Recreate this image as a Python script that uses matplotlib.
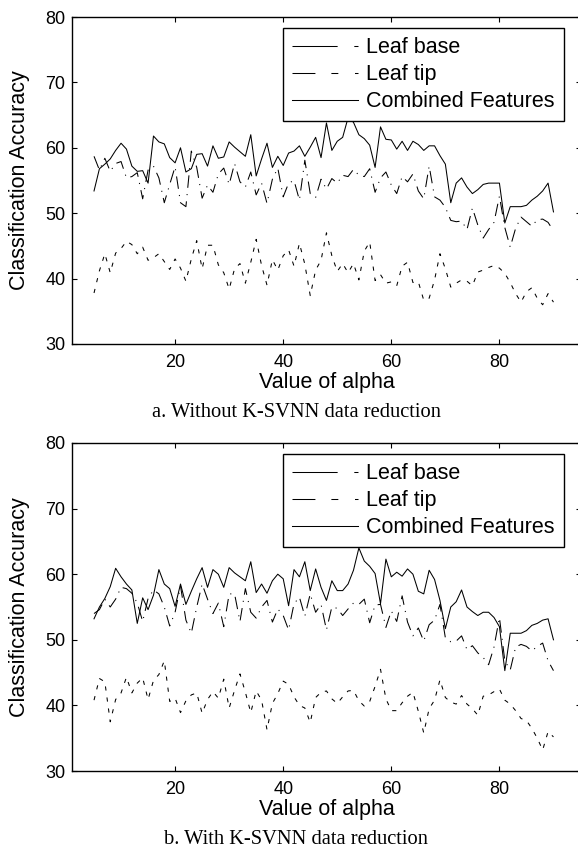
import numpy as np
import matplotlib
matplotlib.use("Agg")
import matplotlib.pyplot as plt
from matplotlib.lines import Line2D

plt.rcParams['font.family'] = ['Liberation Sans', 'DejaVu Sans']
plt.rcParams['lines.scale_dashes'] = False

alpha = np.arange(5, 91)

# a. without K-SVNN data reduction
base_a = [58.7, 56.6, 58.4, 56.4, 57.6, 57.9, 55.4, 55.6, 56.2, 52.2,
          56.6, 57.2, 55.4, 51.6, 54.4, 57.1, 51.6, 51.0, 59.5, 57.0,
          52.3, 54.3, 53.2, 56.0, 56.9, 54.4, 57.6, 54.8, 54.0, 56.3,
          52.8, 54.6, 51.5, 55.2, 56.9, 52.5, 54.6, 55.0, 52.0, 58.1,
          53.0, 52.4, 55.2, 53.7, 55.3, 54.6, 55.8, 55.6, 56.7, 55.8,
          55.6, 56.8, 53.2, 55.4, 56.3, 54.3, 53.0, 55.6, 54.8, 56.0,
          53.4, 52.2, 57.2, 52.5, 52.0, 50.9, 48.9, 48.7, 48.8, 47.5,
          50.8, 48.2, 46.2, 47.5, 48.6, 52.6, 47.8, 44.8, 47.7, 49.4,
          48.7, 48.0, 49.0, 49.1, 48.6, 47.3]
tip_a = [37.8, 41.2, 43.8, 40.9, 43.9, 44.6, 45.7, 45.2, 43.8, 44.8,
         42.8, 43.2, 43.8, 42.6, 41.4, 43.0, 41.6, 39.6, 43.0, 45.8,
         41.5, 45.1, 45.1, 42.1, 40.9, 38.4, 41.5, 42.3, 39.3, 42.5,
         46.0, 42.0, 39.0, 42.9, 41.3, 43.5, 44.4, 41.9, 45.4, 42.2,
         37.4, 41.3, 42.8, 47.0, 43.5, 41.1, 42.3, 40.9, 42.3, 39.8,
         44.2, 45.6, 39.7, 40.6, 39.3, 39.5, 38.9, 41.9, 42.5, 39.4,
         39.5, 36.7, 37.0, 39.8, 43.8, 41.5, 38.7, 39.3, 39.8, 39.6,
         38.9, 41.0, 41.3, 41.7, 42.0, 41.6, 40.8, 39.4, 37.7, 36.4,
         38.0, 38.6, 37.0, 36.0, 37.7, 36.4]
comb_a = [53.4, 56.8, 57.5, 58.3, 59.6, 60.7, 59.8, 57.2, 56.4, 56.5,
          54.6, 61.8, 60.9, 60.6, 58.5, 57.7, 60.0, 56.3, 56.8, 59.0,
          59.1, 57.2, 60.3, 58.4, 58.6, 60.9, 60.1, 59.4, 58.7, 62.0,
          55.7, 58.3, 60.7, 57.0, 58.7, 57.3, 59.2, 59.5, 60.3, 58.7,
          60.1, 61.6, 58.5, 63.8, 59.6, 61.0, 61.6, 64.6, 63.9, 62.0,
          61.4, 60.4, 57.0, 63.2, 61.3, 61.2, 59.8, 61.0, 59.6, 61.0,
          60.5, 59.6, 60.3, 60.3, 58.8, 57.5, 51.6, 54.6, 55.4, 54.0,
          53.0, 53.6, 54.4, 54.6, 54.6, 54.6, 48.5, 51.0, 51.0, 51.0,
          51.2, 52.0, 52.6, 53.4, 54.6, 50.2]

# b. with K-SVNN data reduction
base_b = [54.0, 54.6, 56.2, 55.0, 56.2, 58.0, 57.8, 57.1, 55.6, 52.8,
          56.3, 57.6, 57.0, 55.0, 52.1, 54.2, 58.2, 53.0, 51.0, 55.0,
          58.5, 56.2, 54.0, 55.6, 52.0, 57.0, 57.0, 52.8, 57.8, 54.2,
          53.3, 55.0, 56.0, 52.7, 54.7, 53.7, 51.5, 55.5, 56.5, 53.6,
          57.0, 54.2, 55.4, 51.5, 55.0, 54.8, 53.7, 54.7, 55.6, 55.4,
          56.2, 52.6, 55.3, 55.4, 51.9, 54.4, 52.8, 56.7, 52.7, 50.6,
          51.8, 49.8, 52.3, 53.0, 55.4, 50.3, 49.7, 49.8, 50.6, 48.5,
          49.1, 48.0, 47.3, 46.2, 48.9, 53.4, 46.8, 45.4, 48.9, 49.3,
          49.0, 48.3, 49.0, 49.5, 46.8, 45.3]
tip_b = [40.8, 44.1, 43.6, 37.5, 40.9, 41.9, 44.3, 41.9, 43.4, 44.2,
         40.9, 43.8, 44.7, 46.8, 40.6, 41.1, 38.9, 40.7, 41.6, 41.9,
         38.8, 40.9, 42.1, 41.1, 44.0, 39.6, 42.3, 44.8, 42.0, 38.9,
         42.2, 40.8, 36.3, 40.3, 41.8, 43.7, 43.2, 41.3, 40.0, 39.6,
         37.4, 41.2, 42.0, 42.2, 41.0, 40.3, 41.3, 42.2, 42.3, 40.7,
         39.9, 40.6, 42.9, 45.5, 41.0, 39.2, 39.2, 40.4, 41.4, 42.0,
         39.1, 35.8, 39.5, 40.8, 43.9, 41.2, 40.5, 40.2, 41.5, 40.2,
         39.5, 38.5, 41.4, 41.6, 42.1, 42.5, 40.8, 40.2, 39.2, 38.0,
         37.7, 36.5, 35.0, 33.2, 36.0, 35.2]
comb_b = [53.2, 55.0, 56.3, 58.1, 60.9, 59.6, 58.5, 57.6, 52.5, 56.4,
          54.6, 56.8, 60.7, 58.5, 57.8, 55.1, 58.5, 55.4, 57.4, 59.3,
          61.0, 58.0, 60.7, 60.0, 58.0, 61.0, 60.2, 59.6, 59.0, 61.9,
          57.2, 58.5, 57.1, 59.0, 60.0, 59.3, 55.2, 60.7, 59.6, 61.9,
          57.5, 60.8, 58.0, 56.0, 59.0, 57.5, 57.5, 58.5, 60.6, 64.0,
          62.0, 61.2, 60.1, 55.5, 62.3, 59.6, 60.3, 59.7, 60.8, 60.0,
          57.4, 57.0, 60.6, 59.2, 56.0, 51.7, 55.0, 55.8, 57.6, 55.0,
          54.3, 53.7, 54.2, 54.2, 53.4, 52.0, 45.3, 51.0, 51.0, 51.0,
          51.4, 52.2, 52.5, 53.0, 53.2, 50.0]

labels = ['Leaf base', 'Leaf tip', 'Combined Features']
captions = ['a. Without K-SVNN data reduction', 'b. With K-SVNN data reduction']

fig = plt.figure(figsize=(5.78, 8.5), dpi=100)
W, H = 578.0, 850.0
x0, x1 = 72.4, 580.5
panels = [(17, 344, base_a, tip_a, comb_a, 413), (443, 771, base_b, tip_b, comb_b, 840)]

for i, (ytop, ybot, base, tip, comb, capy) in enumerate(panels):
    ax = fig.add_axes([x0 / W, 1 - ybot / H, (x1 - x0) / W, (ybot - ytop) / H])
    ax.plot(alpha, base, color='k', lw=0.75, dashes=(9, 4.5, 0.8, 4.5))
    ax.plot(alpha, tip, color='k', lw=0.75, dashes=(3.0, 5.0))
    ax.plot(alpha, comb, color='k', lw=0.75)
    ax.set_xlim(1, 95)
    ax.set_ylim(30, 80)
    ax.set_xticks([20, 40, 60, 80])
    ax.set_yticks([30, 40, 50, 60, 70, 80])
    ax.tick_params(direction='in', length=3.5, width=0.8, top=True, right=True,
                   labelsize=13, pad=5)
    ax.tick_params(axis='x', pad=7)
    for s in ax.spines.values():
        s.set_linewidth(1.0)
    ax.set_xlabel('Value of alpha', fontsize=15.5, labelpad=1)
    ax.set_ylabel('Classification Accuracy', fontsize=15.5, labelpad=11)

    h1 = Line2D([], [], color='k', lw=0.75, dashes=(32.5, 12, 3, 20))
    h2 = Line2D([], [], color='k', lw=0.75, dashes=(16.5, 11.5, 5, 12, 3, 20))
    h3 = Line2D([], [], color='k', lw=0.75)
    leg = fig.legend([h1, h2, h3], labels, loc='upper left',
                     bbox_to_anchor=(283 / W, 1 - (ytop + 11) / H),
                     fontsize=15.5, handlelength=3.07, handletextpad=0.37,
                     labelspacing=0.28, borderpad=0.42, borderaxespad=0,
                     fancybox=False, framealpha=1, edgecolor='k')
    leg.get_frame().set_linewidth(1.0)

    fig.text(296 / W, 1 - capy / H, captions[i], ha='center', va='center',
             fontsize=14.8, family=['Liberation Serif', 'DejaVu Serif'])

fig.savefig('out.png', dpi=100)
